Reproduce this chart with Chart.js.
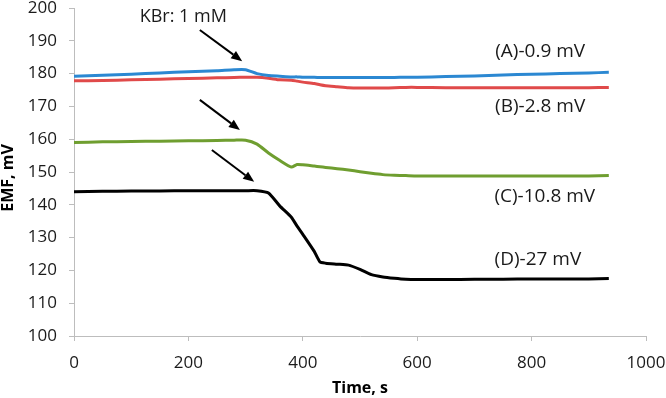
<!DOCTYPE html>
<html><head><meta charset="utf-8">
<script src="https://cdn.jsdelivr.net/npm/chart.js@4"></script>
<style>html,body{margin:0;padding:0;background:#fff}#wrap{width:666px;height:398px}</style>
</head><body><div id="wrap"><canvas id="c"></canvas></div>
<script>
const times = [0,50,100,150,200,250,280,300,320,340,360,380,390,400,420,430,440,460,480,500,520,540,560,580,600,650,700,750,800,850,900,935];
const seriesA = [179.2,179.5,179.8,180.2,180.6,180.9,181.2,181.2,180.0,179.4,179.2,179.0,179.0,178.9,178.9,178.8,178.8,178.8,178.8,178.8,178.8,178.8,178.8,178.9,178.9,179.1,179.3,179.6,179.8,180.0,180.2,180.4];
const seriesB = [177.8,177.9,178.1,178.3,178.5,178.7,178.8,178.9,178.9,178.6,178.1,178.0,177.7,177.4,177.0,176.6,176.3,176.0,175.7,175.6,175.6,175.6,175.7,175.8,175.8,175.7,175.7,175.7,175.7,175.7,175.7,175.8];
const seriesC = [159.0,159.2,159.3,159.4,159.5,159.6,159.7,159.7,158.5,155.8,153.5,151.5,152.3,152.2,151.8,151.6,151.4,151.0,150.6,150.1,149.6,149.2,149.0,148.9,148.8,148.8,148.8,148.8,148.8,148.8,148.8,148.9];
const seriesD = [144.0,144.1,144.2,144.2,144.3,144.3,144.3,144.3,144.3,143.6,139.6,136.2,133.5,131.0,125.8,122.6,122.2,121.9,121.6,120.3,118.7,118.0,117.6,117.3,117.2,117.2,117.3,117.3,117.4,117.4,117.4,117.5];
const seriesLabels = ['(A)-0.9 mV','(B)-2.8 mV','(C)-10.8 mV','(D)-27 mV'];
const labelPos = [[815,186.6],[815,169.8],[823,142.4],[811,123.2]];
const noteText = 'KBr: 1 mM';
const notePos = [191,197.3];
const arrows = [[220,193.3,294,183.8],[220,172,290,162.8],[241,156.7,315,147]];
const xTicks = [0,200,400,600,800,1000];
const xTitle = 'Time, s';
const yTitle = 'EMF, mV';

const FONT = '"Open Sans", sans-serif';
const pts = v => times.map((t,i)=>({x:t,y:v[i]}));
const mk = (v,c)=>({data:pts(v),borderColor:c,backgroundColor:c,borderWidth:3,pointRadius:0,tension:0.2,fill:false});

const annot = {
  id:'annot',
  afterDatasetsDraw(chart){
    const {ctx,chartArea:ca,scales:{x,y}} = chart;
    ctx.save();
    ctx.fillStyle='#1a1a1a';ctx.font='19px '+FONT;ctx.textAlign='center';ctx.textBaseline='middle';
    seriesLabels.forEach((s,i)=>ctx.fillText(s,x.getPixelForValue(labelPos[i][0]),y.getPixelForValue(labelPos[i][1])));
    ctx.font='18px '+FONT;
    ctx.fillText(noteText,x.getPixelForValue(notePos[0]),y.getPixelForValue(notePos[1]));
    ctx.fillStyle='#000';ctx.font='bold 16px '+FONT;
    ctx.fillText(xTitle,(ca.left+ca.right)/2,ca.bottom+52);
    ctx.save();ctx.translate(ca.left-66,(ca.top+ca.bottom)/2+6);ctx.rotate(-Math.PI/2);ctx.fillText(yTitle,0,0);ctx.restore();
    ctx.strokeStyle='#000';ctx.fillStyle='#000';ctx.lineWidth=2;
    arrows.forEach(a=>{
      const x1=x.getPixelForValue(a[0]),y1=y.getPixelForValue(a[1]),x2=x.getPixelForValue(a[2]),y2=y.getPixelForValue(a[3]);
      const ang=Math.atan2(y2-y1,x2-x1),L=11,W=4.5;
      const bx=x2-L*Math.cos(ang),by=y2-L*Math.sin(ang);
      ctx.beginPath();ctx.moveTo(x1,y1);ctx.lineTo(bx,by);ctx.stroke();
      ctx.beginPath();ctx.moveTo(x2,y2);
      ctx.lineTo(bx+W*Math.sin(ang),by-W*Math.cos(ang));
      ctx.lineTo(bx-W*Math.sin(ang),by+W*Math.cos(ang));
      ctx.closePath();ctx.fill();
    });
    ctx.restore();
  }
};

new Chart(document.getElementById('c'),{
  type:'line',
  data:{datasets:[mk(seriesA,'#2b88d2'),mk(seriesB,'#e04a4a'),mk(seriesC,'#6f9e30'),mk(seriesD,'#000000')]},
  options:{
    responsive:true,maintainAspectRatio:false,animation:false,
    layout:{padding:{top:8,right:20,bottom:0,left:0}},
    plugins:{legend:{display:false},tooltip:{enabled:false}},
    scales:{
      x:{type:'linear',min:0,max:1000,
        afterBuildTicks:s=>{s.ticks=xTicks.map(v=>({value:v}));},
        afterFit:s=>{s.height=62;s.paddingLeft=0;s.paddingRight=0;},
        grid:{drawOnChartArea:false,drawTicks:true,tickLength:5,color:'#bdbdbd'},
        border:{color:'#bdbdbd',width:1},
        ticks:{font:{family:FONT,size:17},color:'#1a1a1a',padding:12,maxRotation:0,callback:v=>String(v)}
      },
      y:{type:'linear',min:100,max:200,
        ticks:{stepSize:10,font:{family:FONT,size:17},color:'#1a1a1a',padding:12,callback:v=>String(v)},
        afterFit:s=>{s.width=74;s.paddingTop=0;s.paddingBottom=0;},
        grid:{drawOnChartArea:false,drawTicks:true,tickLength:5,color:'#bdbdbd'},
        border:{color:'#bdbdbd',width:1}
      }
    }
  },
  plugins:[annot]
});
</script></body></html>
